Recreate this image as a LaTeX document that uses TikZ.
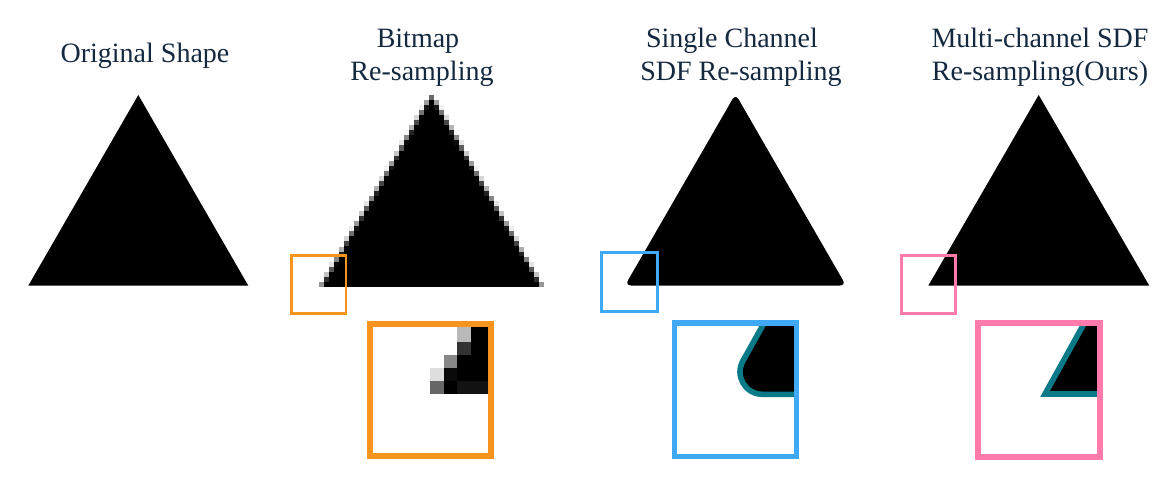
\documentclass[tikz,border=0pt]{standalone}
\usepackage{fontspec}
\setmainfont{Liberation Serif}
\definecolor{txt}{HTML}{142840}
\definecolor{orng}{HTML}{F7941E}
\definecolor{blu}{HTML}{3FA9F5}
\definecolor{pnk}{HTML}{FF7BAC}
\definecolor{tel}{HTML}{0A7A88}
\newcommand\pcv[2]{max(0,min(#1+5,#2)-max(#1,-(#2)))/5}
\begin{document}
\begin{tikzpicture}[x=1pt,y=-1pt,
  lbl/.style={text=txt,font=\fontsize{28}{32}\selectfont,anchor=base,inner sep=0pt},
  smallbox/.style={line width=2.6pt},
  bigbox/.style={line width=5.6pt},
  outl/.style={draw=tel,line width=5.6pt,fill=black}]
\useasboundingbox (0,0) rectangle (1176,500);
% titles
\node[lbl] (t1) at (145,63) {Original Shape};
\node[lbl] (t2a) at (418,48) {Bitmap};
\node[lbl] (t2b) at (422,81) {Re-sampling};
\node[lbl] (t3a) at (732,48) {Single Channel};
\node[lbl] (t3b) at (741,81) {SDF Re-sampling};
\node[lbl] (t4a) at (1040,48) {Multi-channel SDF};
\node[lbl] (t4b) at (1040,81) {Re-sampling(Ours)};
% original triangle
\fill[black] (28.3,285.7) -- (138.3,95) -- (248.3,285.7) -- cycle;
% bitmap triangle
\def\cx{431}\def\ps{5.05}\def\ms{0.5785}
\foreach \r in {0,...,37}{
  \pgfmathsetmacro{\yt}{95+\r*\ps}
  \pgfmathsetmacro{\yb}{\yt+\ps}
  \pgfmathsetmacro{\wt}{\r*\ps*\ms}
  \pgfmathtruncatemacro{\Kf}{floor((\wt-2.5)/5)}
  \ifnum\Kf>-1
    \fill[black] ({\cx-2.5-5*\Kf},{\yt-0.3}) rectangle ({\cx+2.5+5*\Kf},{\yb+0.3});
  \fi
  \pgfmathsetmacro{\wa}{(\r+0.125)*\ps*\ms}
  \pgfmathsetmacro{\wb}{(\r+0.375)*\ps*\ms}
  \pgfmathsetmacro{\wc}{(\r+0.625)*\ps*\ms}
  \pgfmathsetmacro{\wd}{(\r+0.875)*\ps*\ms}
  \foreach \dk in {1,2}{
    \pgfmathtruncatemacro{\k}{\Kf+\dk}
    \ifnum\k>-1
      \pgfmathsetmacro{\u}{5*\k-2.5}
      \pgfmathsetmacro{\cv}{100*(\pcv{\u}{\wa}+\pcv{\u}{\wb}+\pcv{\u}{\wc}+\pcv{\u}{\wd})/4}
      \fill[black!\cv] ({\cx+\u},\yt) rectangle ({\cx+\u+5},\yb);
      \fill[black!\cv] ({\cx-(\u)-5},\yt) rectangle ({\cx-(\u)},\yb);
    \fi
  }
}
% single channel SDF triangle
\fill[black,rounded corners=6pt] (625,285.5) -- (735.5,94) -- (846,285.5) -- cycle;
% multi-channel triangle
\fill[black] (928.3,285.7) -- (1038.7,95) -- (1149.3,285.7) -- cycle;
% small boxes
\draw[smallbox,orng] (291.7,255.3) rectangle (346,313.5);
\draw[smallbox,blu] (601.7,252.3) rectangle (657.3,311.3);
\draw[smallbox,pnk] (901.2,255.5) rectangle (955.3,313.3);
% bitmap inset
\fill[black] (470.7,323) rectangle (490,341.7);
\fill[black!27] (456.7,326) rectangle (470.7,341.7);
\fill[black!80] (456.7,341.7) rectangle (470.7,355);
\fill[black] (470.7,341.7) rectangle (490,355);
\fill[black!47] (444,355) rectangle (456.7,367.7);
\fill[black] (456.7,355) rectangle (490,367.7);
\fill[black!13] (430,367.7) rectangle (444,380.7);
\fill[black!96] (444,367.7) rectangle (456.7,380.7);
\fill[black] (456.7,367.7) rectangle (490,380.7);
\fill[black!60] (430,380.7) rectangle (444,394);
\fill[black] (444,380.7) rectangle (456.7,394);
\fill[black!93] (456.7,380.7) rectangle (490,394);
\draw[bigbox,orng] (369.8,323.8) rectangle (491.2,456.2);
% single channel inset
\begin{scope}
\clip (674.5,322.8) rectangle (796.5,456.5);
\path[outl] (805,312) -- (770.3,312) -- (743,360.7)
  .. controls (734.4,375.6) and (745.2,394.3) .. (762.4,394.3) -- (805,394.3) -- cycle;
\end{scope}
\draw[bigbox,blu] (674.5,322.8) rectangle (796.5,456.5);
% multi-channel inset
\begin{scope}
\clip (978,323) rectangle (1099.7,457);
\path[outl,line join=miter] (1110,312) -- (1090.5,312) -- (1045,394) -- (1110,394) -- cycle;
\end{scope}
\draw[bigbox,pnk] (978,323) rectangle (1099.7,457);
\end{tikzpicture}
\end{document}
